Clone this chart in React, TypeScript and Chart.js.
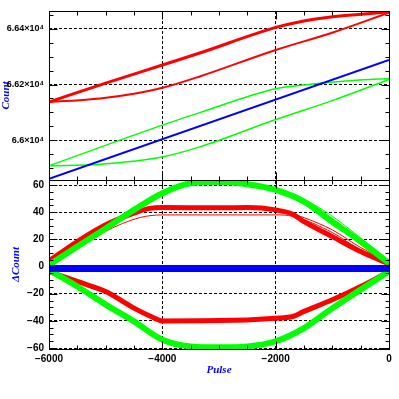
import React, { useEffect, useRef } from 'react';
import { Chart, registerables } from 'chart.js';

Chart.register(...registerables);

// ---- tick values ----
const xTicks = [-6000, -4000, -2000, 0];
const topTicks = [66000, 66200, 66400];
const botTicks = [-60, -40, -20, 0, 20, 40, 60];

// ---- top panel: Count vs Pulse ----
const blueTopPulse = [-6000, 0];
const blueTopCount = [65861, 66288];

const redUpTopPulse = [-6000, -5000, -4000, -3340, -2000, -1630, -990, 0];
const redUpTopCount = [66137, 66205, 66270, 66313, 66405, 66423, 66443, 66460];

const redLoTopPulse = [-6000, -5100, -4500, -4000, -3340, -2000, -990, 0];
const redLoTopCount = [66137, 66150, 66167, 66188, 66229, 66324, 66387, 66458];

const greenUpTopPulse = [-6000, -4000, -3340, -2000, -1340, -810, 0];
const greenUpTopCount = [65908, 66054, 66099, 66185, 66202, 66212, 66222];

const greenLoTopPulse = [-6000, -5100, -4000, -3340, -2000, -990, 0];
const greenLoTopCount = [65908, 65914, 65940, 65976, 66074, 66143, 66218];

// ---- bottom panel: ΔCount vs Pulse ----
const blueBotPulse = [-6000, 0];
const blueBotDelta = [-1.5, -1.5];

const greenUpBotPulse = [-6000, -5500, -5000, -4500, -4000, -3500, -3000, -2500, -2000, -1500, -1000, -500, 0];
const greenUpBotDelta = [1.2, 14.7, 28, 41.7, 54, 61.3, 62.2, 60.6, 56.4, 47.8, 33, 18.4, 2.5];

const greenThinBotPulse = [-2000, -1500, -1000, -500, 0];
const greenThinBotDelta = [56.4, 49.5, 37, 21, 4.2];

const redUpBotPulse = [-6000, -5500, -5000, -4500, -4200, -4000, -3000, -2500, -2000, -1700, -1500, -1000, -500, 0];
const redUpBotDelta = [4.2, 18.4, 30.7, 39.3, 43, 43.4, 43.2, 43.4, 41.7, 38.5, 33, 22, 11, 1.8];

const redThinBotPulse = [-6000, -5000, -4400, -4000, -2000, -1700, -1000, -500, 0];
const redThinBotDelta = [1, 26, 36, 38, 38, 37, 25, 12, 2];

const redThin2BotPulse = [-1800, -1500, -1000, -500, 0];
const redThin2BotDelta = [40, 36, 27, 14, 3];

const redLoBotPulse = [-6000, -5500, -5000, -4500, -4200, -4000, -3000, -2000, -1700, -1500, -1000, -500, 0];
const redLoBotDelta = [-3.7, -11, -18.4, -30.6, -36.8, -40, -39.8, -38, -36.8, -33, -24.5, -14.7, -3.7];

const greenLoBotPulse = [-6000, -5500, -5000, -4500, -4000, -3500, -3000, -2500, -2000, -1500, -1000, -500, 0];
const greenLoBotDelta = [-2.5, -14.7, -28, -40.4, -53.9, -58.8, -59.5, -58.8, -55, -45.3, -30.6, -17, -3.7];

const RED = '#ff0000';
const GREEN = '#00ff00';
const BLUE = '#0000ff';

const pts = (xs: number[], ys: number[]) => xs.map((x, i) => ({ x, y: ys[i] }));

const ds = (xs: number[], ys: number[], color: string, width: number, axis: string) => ({
  data: pts(xs, ys),
  borderColor: color,
  backgroundColor: color,
  borderWidth: width,
  pointRadius: 0,
  fill: false,
  cubicInterpolationMode: 'monotone',
  yAxisID: axis,
  xAxisID: 'x',
});

const minus = (v: number) => (v < 0 ? '\u2212' + Math.abs(v) : String(v));

const LABEL_FONT = { family: 'Liberation Sans', size: 10, weight: 'bold' as const };
const TOP_LABEL_FONT = { family: 'Liberation Sans', size: 9, weight: 'bold' as const };
const TITLE_FONT = { family: 'Liberation Serif', size: 11, weight: 'bold' as const, style: 'italic' as const };

const framePlugin = {
  id: 'frameTicks',
  afterDatasetsDraw(chart: any) {
    const { ctx } = chart;
    const xs = chart.scales.x;
    ctx.save();
    ctx.strokeStyle = '#000';
    ctx.lineWidth = 1;
    ctx.setLineDash([]);
    const line = (x1: number, y1: number, x2: number, y2: number) => {
      ctx.beginPath();
      ctx.moveTo(x1, y1);
      ctx.lineTo(x2, y2);
      ctx.stroke();
    };
    const panels = [
      { id: 'yTop', minor: 50 },
      { id: 'yBot', minor: 5 },
    ];
    for (const p of panels) {
      const ys = chart.scales[p.id];
      const top = Math.round(ys.top) + 0.5;
      const bot = Math.round(ys.bottom) + 0.5;
      const left = Math.round(xs.left) + 0.5;
      const right = Math.round(xs.right) + 0.5;
      ctx.strokeRect(left, top, right - left, bot - top);
      for (let v = xs.min; v <= xs.max + 1e-6; v += 500) {
        const px = Math.round(xs.getPixelForValue(v)) + 0.5;
        const len = Math.abs(v % 2000) < 1e-6 ? 8 : 4;
        line(px, top, px, top + len);
        line(px, bot, px, bot - len);
      }
      const start = Math.ceil(ys.min / p.minor) * p.minor;
      const major = p.minor * 4;
      for (let v = start; v <= ys.max + 1e-6; v += p.minor) {
        const py = Math.round(ys.getPixelForValue(v)) + 0.5;
        const len = Math.abs(Math.round(v) % major) < 1e-6 ? 8 : 4;
        line(left, py, left + len, py);
        line(right, py, right - len, py);
      }
    }
    ctx.restore();
  },
};

export default function App() {
  const ref = useRef<HTMLCanvasElement | null>(null);

  useEffect(() => {
    if (!ref.current) return;
    const chart = new Chart(ref.current, {
      type: 'line',
      data: {
        datasets: [
          ds(blueTopPulse, blueTopCount, BLUE, 2, 'yTop'),
          ds(redUpTopPulse, redUpTopCount, RED, 3, 'yTop'),
          ds(redLoTopPulse, redLoTopCount, RED, 2, 'yTop'),
          ds(greenUpTopPulse, greenUpTopCount, GREEN, 1.5, 'yTop'),
          ds(greenLoTopPulse, greenLoTopCount, GREEN, 1.5, 'yTop'),
          ds(blueBotPulse, blueBotDelta, BLUE, 7, 'yBot'),
          ds(greenThinBotPulse, greenThinBotDelta, GREEN, 1, 'yBot'),
          ds(greenUpBotPulse, greenUpBotDelta, GREEN, 6, 'yBot'),
          ds(greenLoBotPulse, greenLoBotDelta, GREEN, 6, 'yBot'),
          ds(redThinBotPulse, redThinBotDelta, RED, 1, 'yBot'),
          ds(redThin2BotPulse, redThin2BotDelta, RED, 1, 'yBot'),
          ds(redUpBotPulse, redUpBotDelta, RED, 5, 'yBot'),
          ds(redLoBotPulse, redLoBotDelta, RED, 5, 'yBot'),
        ] as any,
      },
      options: {
        animation: false,
        responsive: false,
        maintainAspectRatio: false,
        layout: { padding: { top: 10, right: 10, left: 0, bottom: 0 } },
        plugins: { legend: { display: false }, tooltip: { enabled: false } },
        elements: { point: { radius: 0 } },
        scales: {
          x: {
            type: 'linear',
            position: 'bottom',
            min: -6000,
            max: 0,
            afterBuildTicks: (s: any) => {
              s.ticks = xTicks.map((v) => ({ value: v }));
            },
            afterFit: (s: any) => {
              s.height = 50;
            },
            ticks: {
              callback: (v: any) => minus(Number(v)),
              font: LABEL_FONT,
              color: '#000',
              padding: 4,
              maxRotation: 0,
              autoSkip: false,
            },
            grid: { color: '#000', lineWidth: 1, drawTicks: false },
            border: { display: false, dash: [3, 2] },
            title: {
              display: true,
              text: 'Pulse',
              color: BLUE,
              font: TITLE_FONT,
              padding: { top: 0, bottom: 22 },
            },
          },
          yBot: {
            type: 'linear',
            position: 'left',
            stack: 'panels',
            stackWeight: 1,
            min: -60.7,
            max: 63.7,
            afterBuildTicks: (s: any) => {
              s.ticks = botTicks.map((v) => ({ value: v }));
            },
            afterFit: (s: any) => {
              s.width = 49;
            },
            ticks: {
              callback: (v: any) => minus(Number(v)),
              font: LABEL_FONT,
              color: '#000',
              padding: 5,
              autoSkip: false,
            },
            grid: { color: '#000', lineWidth: 1, drawTicks: false },
            border: { display: false, dash: [3, 2] },
            title: {
              display: true,
              text: '\u0394Count',
              color: BLUE,
              font: TITLE_FONT,
              padding: { top: 10, bottom: 0 },
            },
          },
          yTop: {
            type: 'linear',
            position: 'left',
            stack: 'panels',
            stackWeight: 1,
            min: 65857,
            max: 66464,
            afterBuildTicks: (s: any) => {
              s.ticks = topTicks.map((v) => ({ value: v }));
            },
            afterFit: (s: any) => {
              s.width = 49;
            },
            ticks: {
              callback: (v: any) => String(+(Number(v) / 1e4).toFixed(4)) + '\u00d710\u2074',
              font: TOP_LABEL_FONT,
              color: '#000',
              padding: 5,
              autoSkip: false,
            },
            grid: { color: '#000', lineWidth: 1, drawTicks: false },
            border: { display: false, dash: [3, 2] },
            title: {
              display: true,
              text: 'Count',
              color: BLUE,
              font: TITLE_FONT,
              padding: { top: 0, bottom: 0 },
            },
          },
        } as any,
      },
      plugins: [framePlugin],
    });
    return () => chart.destroy();
  }, []);

  return (
    <div style={{ position: 'fixed', left: 0, top: 0, width: 399, height: 399, background: '#fff' }}>
      <canvas ref={ref} width={399} height={399} style={{ display: 'block', width: 399, height: 399 }} />
    </div>
  );
}
